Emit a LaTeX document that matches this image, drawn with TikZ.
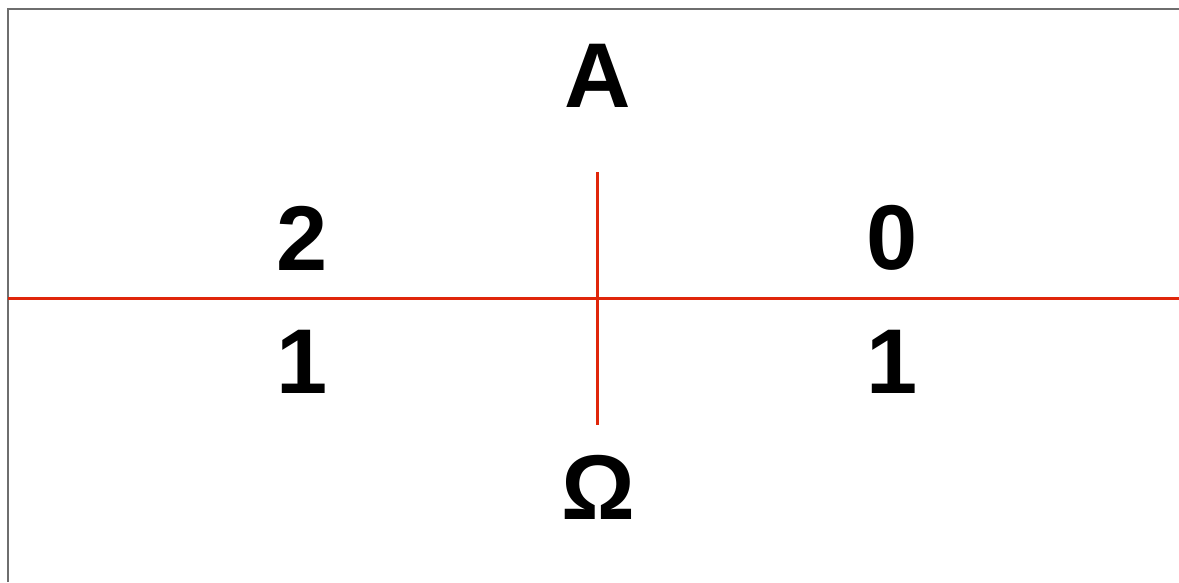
\documentclass[tikz,border=0pt]{standalone}
\usepackage{fontspec}
\setmainfont{Liberation Sans}
\definecolor{crossred}{RGB}{224,38,10}
\definecolor{framegray}{RGB}{110,110,110}

\begin{document}
\begin{tikzpicture}[x=1pt, y=-1pt,
  lab/.style={font=\fontsize{92}{92}\selectfont\bfseries, inner sep=0pt},
  cross/.style={crossred, line width=3pt}]
\useasboundingbox (0,0) rectangle (1179,582);

% ramecek
\draw[framegray, line width=1.3pt] (8,582) -- (8,9) -- (1179,9);

% popisky
\node[lab] (alpha) at (598,76) {A};
\node[lab] (omega) at (598,487) {Ω};
\node[lab] (nw) at (302,238) {2};
\node[lab] (ne) at (892,238) {0};
\node[lab] (sw) at (302,362) {1};
\node[lab] (se) at (892,362) {1};

% kriz
\coordinate (vtop) at (597,172);
\coordinate (vbot) at (597,425);
\coordinate (hleft) at (8,298);
\coordinate (hright) at (1179,298);
\draw[cross] (vtop) -- (vbot);
\draw[cross] (hleft) -- (hright);

\end{tikzpicture}
\end{document}
